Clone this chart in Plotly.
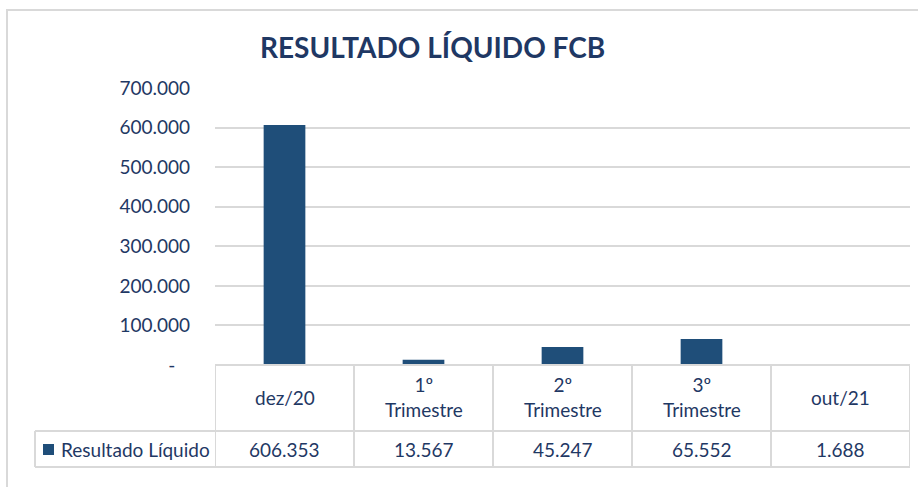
import plotly.graph_objects as go

W, H = 918, 487

title = "RESULTADO LÍQUIDO FCB"
series_name = "Resultado Líquido"
categories = ["dez/20", "1º<br>Trimestre", "2º<br>Trimestre", "3º<br>Trimestre", "out/21"]
values = [606353, 13567, 45247, 65552, 1688]
value_labels = ["606.353", "13.567", "45.247", "65.552", "1.688"]
tick_vals = [0, 100000, 200000, 300000, 400000, 500000, 600000, 700000]
tick_text = ["-\u00a0\u00a0\u00a0", "100.000", "200.000", "300.000", "400.000", "500.000", "600.000", "700.000"]

NAVY = "#1F3864"
BAR = "#1F4E79"
GRID = "#D9D9D9"
FONT = "Lato, Liberation Sans, sans-serif"


def px(xp):
    return xp / W


def py(yp):
    return 1 - yp / H


x_left, x_right = 215, 910
y_zero, y_top = 365, 88
row1_bottom, row2_bottom = 431, 467
legend_left = 35

fig = go.Figure()
fig.add_trace(go.Bar(
    x=list(range(len(categories))), y=values, name=series_name,
    marker=dict(color=BAR, line=dict(width=0)), width=0.30,
    showlegend=False, hoverinfo="y",
))

fig.update_layout(
    width=W, height=H, autosize=False,
    margin=dict(l=0, r=0, t=0, b=0, pad=0, autoexpand=False),
    showlegend=False,
    paper_bgcolor="white", plot_bgcolor="white",
    font=dict(family=FONT, color=NAVY, size=19),
    xaxis=dict(domain=[px(x_left), px(x_right)], range=[-0.5, len(categories) - 0.5],
               showticklabels=False, showgrid=False, zeroline=False, showline=False,
               fixedrange=True, automargin=False),
    yaxis=dict(domain=[py(y_zero), py(y_top)], range=[0, 700000],
               tickvals=tick_vals, ticktext=tick_text, showgrid=True,
               gridcolor=GRID, gridwidth=2, zeroline=False, showline=False,
               ticks="", ticklabelstandoff=24, tickfont=dict(size=19, color=NAVY),
               fixedrange=True, automargin=False),
    annotations=[dict(text="<b>" + title + "</b>", x=px(432), y=py(47), xref="paper", yref="paper",
                      showarrow=False, xanchor="center", yanchor="middle",
                      font=dict(size=28, color=NAVY, family=FONT))],
)

shapes = []
# outer chart frame
shapes.append(dict(type="rect", xref="paper", yref="paper", x0=px(7), x1=px(930), y0=py(500), y1=py(10),
                   line=dict(color=GRID, width=2), layer="below"))
# table horizontal lines
shapes.append(dict(type="line", xref="paper", yref="paper", x0=px(x_left), x1=px(x_right), y0=py(y_zero), y1=py(y_zero),
                   line=dict(color=GRID, width=2)))
for yy in (row1_bottom, row2_bottom):
    shapes.append(dict(type="line", xref="paper", yref="paper", x0=px(legend_left), x1=px(x_right), y0=py(yy), y1=py(yy),
                       line=dict(color=GRID, width=2)))
shapes.append(dict(type="line", xref="paper", yref="paper", x0=px(legend_left), x1=px(legend_left), y0=py(row1_bottom), y1=py(row2_bottom),
                   line=dict(color=GRID, width=2)))
# table vertical lines at category boundaries
for i in range(len(categories) + 1):
    shapes.append(dict(type="line", xref="x", yref="paper", x0=i - 0.5, x1=i - 0.5, y0=py(y_zero), y1=py(row2_bottom),
                       line=dict(color=GRID, width=2)))
# legend key
shapes.append(dict(type="rect", xref="paper", yref="paper", x0=px(43), x1=px(54), y0=py(455), y1=py(444),
                   fillcolor=BAR, line=dict(width=0)))
fig.update_layout(shapes=shapes)

for i, (c, v) in enumerate(zip(categories, value_labels)):
    fig.add_annotation(text=c, x=i, y=py(397), xref="x", yref="paper", showarrow=False,
                       xanchor="center", yanchor="middle", font=dict(size=19, color=NAVY))
    fig.add_annotation(text=v, x=i, y=py(449), xref="x", yref="paper", showarrow=False,
                       xanchor="center", yanchor="middle", font=dict(size=19, color=NAVY))
fig.add_annotation(text=series_name, x=px(59), y=py(449), xref="paper", yref="paper", showarrow=False,
                   xanchor="left", yanchor="middle", font=dict(size=19, color=NAVY))

fig.write_html("out.html", config={"displayModeBar": False, "responsive": False},
               post_script="document.body.style.margin='0px';document.body.style.overflow='hidden';")
